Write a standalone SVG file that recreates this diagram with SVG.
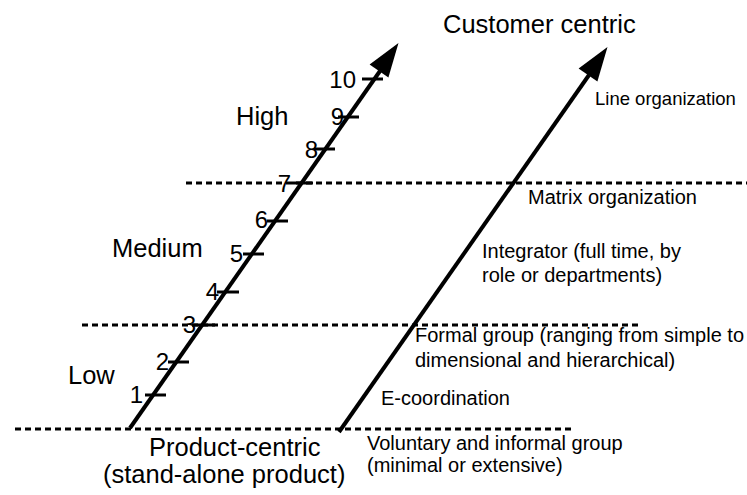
<svg xmlns="http://www.w3.org/2000/svg" width="747" height="495" viewBox="0 0 747 495">
<style>
text{font-family:"Liberation Sans",Arial,sans-serif;fill:#000}
.big{font-size:25.5px}
.num{font-size:24px;text-anchor:end}
.sm{font-size:20px}
.dot{stroke:#000;stroke-width:3;stroke-dasharray:6 4;fill:none}
.axis{stroke:#000;stroke-width:4;fill:none}
.tick{stroke:#000;stroke-width:3}
.head{fill:#000}
</style>
<rect width="747" height="495" fill="#fff"/>
<g id="levels">
<line class="dot" x1="186" y1="183" x2="747" y2="183"/>
<line class="dot" x1="82" y1="325" x2="638" y2="325"/>
<line class="dot" x1="15" y1="429" x2="572" y2="429"/>
</g>
<g id="connectors">
<g id="scale-axis">
<line class="axis" x1="130" y1="428" x2="380" y2="71"/>
<polygon class="head" points="398.5,43 369.6,64.4 388.4,77.6"/>
</g>
<g id="org-axis">
<line class="axis" x1="339" y1="432" x2="589" y2="75"/>
<polygon class="head" points="607.5,47 578.6,68.4 597.4,81.6"/>
</g>
</g>
<g id="ticks">
<line class="tick" x1="145" y1="395" x2="166" y2="395"/>
<line class="tick" x1="168" y1="362" x2="189" y2="362"/>
<line class="tick" x1="192" y1="325" x2="215" y2="325"/>
<line class="tick" x1="217" y1="292" x2="239" y2="292"/>
<line class="tick" x1="243" y1="254" x2="264" y2="254"/>
<line class="tick" x1="267" y1="221" x2="288" y2="221"/>
<line class="tick" x1="292" y1="183" x2="313" y2="183"/>
<line class="tick" x1="314" y1="149" x2="335" y2="149"/>
<line class="tick" x1="338" y1="117" x2="359" y2="117"/>
<line class="tick" x1="362" y1="79" x2="383" y2="79"/>
</g>
<g id="numbers">
<text class="num" x="143" y="403">1</text>
<text class="num" x="169" y="370">2</text>
<text class="num" x="196" y="333">3</text>
<text class="num" x="219" y="300">4</text>
<text class="num" x="243" y="262">5</text>
<text class="num" x="268" y="228">6</text>
<text class="num" x="291" y="192">7</text>
<text class="num" x="318" y="158">8</text>
<text class="num" x="344" y="125">9</text>
<text class="num" x="356" y="88">10</text>
</g>
<g id="level-labels">
<text class="big" x="236" y="125">High</text>
<text class="big" x="112" y="257">Medium</text>
<text class="big" x="68" y="384">Low</text>
</g>
<g id="customer-centric"><text class="big" x="443" y="33">Customer centric</text></g>
<g id="product-centric">
<text class="big" x="149" y="456">Product-centric</text>
<text class="big" x="103" y="483">(stand-alone product)</text>
</g>
<g id="org-labels">
<text class="sm" x="595" y="105" style="font-size:18.5px">Line organization</text>
<text class="sm" x="528" y="204">Matrix organization</text>
<text class="sm" x="482" y="258">Integrator (full time, by</text>
<text class="sm" x="482" y="282">role or departments)</text>
<text class="sm" x="415" y="342">Formal group (ranging from simple to</text>
<text class="sm" x="415" y="367">dimensional and hierarchical)</text>
<text class="sm" x="381" y="405">E-coordination</text>
<text class="sm" x="367" y="450">Voluntary and informal group</text>
<text class="sm" x="367" y="472">(minimal or extensive)</text>
</g>
</svg>
